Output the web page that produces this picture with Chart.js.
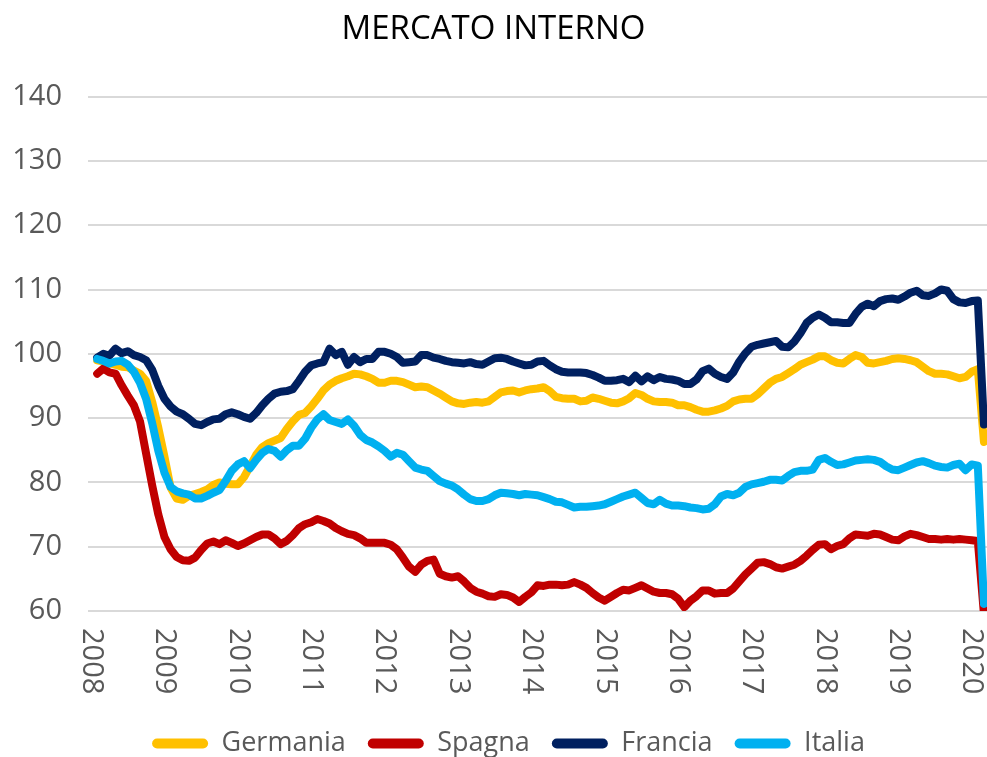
<!DOCTYPE html>
<html>
<head>
<meta charset="utf-8">
<title>Mercato interno</title>
<script src="https://cdn.jsdelivr.net/npm/chart.js@4.4.1/dist/chart.umd.min.js"></script>
<style>
  html, body { margin: 0; padding: 0; background: #fff; }
  #wrap { width: 987px; height: 757px; }
</style>
</head>
<body>
<div id="wrap"><canvas id="chart" width="987" height="757"></canvas></div>
<script>
// monthly index values, Feb 2008 .. Mar 2020 (month index 1 = Feb 2008)
const germania = [
  99.0, 98.8, 98.5, 98.3, 98.0, 97.9, 97.4, 96.9, 95.8, 92.5,
  88.5, 84.0, 79.2, 77.5, 77.3, 77.9, 78.2, 78.5, 78.9, 79.6,
  80.0, 79.8, 79.7, 79.7, 80.8, 82.5, 84.3, 85.5, 86.1, 86.5,
  86.9, 88.3, 89.5, 90.5, 90.8, 91.8, 93.0, 94.3, 95.2, 95.8,
  96.2, 96.5, 96.9, 96.8, 96.5, 96.1, 95.5, 95.5, 95.8, 95.8,
  95.6, 95.2, 94.8, 94.9, 94.8, 94.3, 93.8, 93.2, 92.6, 92.3,
  92.2, 92.4, 92.5, 92.4, 92.6, 93.3, 94.0, 94.2, 94.3, 94.0,
  94.3, 94.5, 94.6, 94.8, 94.2, 93.3, 93.1, 93.0, 93.0, 92.6,
  92.7, 93.2, 93.0, 92.7, 92.4, 92.3, 92.6, 93.1, 93.9, 93.6,
  93.0, 92.6, 92.5, 92.5, 92.4, 92.0, 92.0, 91.7, 91.3, 91.0,
  91.0, 91.2, 91.5, 91.9, 92.6, 92.9, 93.0, 93.0, 93.7, 94.6,
  95.5, 96.1, 96.4, 97.0, 97.6, 98.3, 98.7, 99.1, 99.6, 99.6,
  99.0, 98.6, 98.5, 99.2, 99.8, 99.5, 98.6, 98.5, 98.7, 98.9,
  99.2, 99.3, 99.2, 99.0, 98.7, 98.0, 97.3, 96.9, 96.9, 96.8,
  96.5, 96.2, 96.4, 97.2, 97.6, 86.3
];
const spagna = [
  96.9, 97.7, 97.1, 96.9, 95.1, 93.5, 92.0, 89.5, 84.5, 79.5,
  75.0, 71.5, 69.6, 68.4, 67.9, 67.8, 68.3, 69.5, 70.5, 70.8,
  70.4, 71.0, 70.6, 70.1, 70.5, 71.0, 71.5, 71.9, 71.9, 71.3,
  70.4, 70.9, 71.8, 72.9, 73.5, 73.8, 74.3, 74.0, 73.6, 72.9,
  72.4, 72.0, 71.8, 71.3, 70.6, 70.6, 70.6, 70.6, 70.3, 69.6,
  68.3, 66.9, 66.1, 67.2, 67.8, 68.0, 65.8, 65.4, 65.2, 65.4,
  64.6, 63.6, 63.0, 62.7, 62.3, 62.2, 62.6, 62.5, 62.1, 61.4,
  62.2, 62.9, 64.0, 63.9, 64.1, 64.1, 64.0, 64.1, 64.5, 64.1,
  63.6, 62.8, 62.1, 61.6, 62.2, 62.8, 63.3, 63.2, 63.6, 64.0,
  63.5, 63.0, 62.8, 62.8, 62.6, 61.9, 60.6, 61.6, 62.3, 63.2,
  63.2, 62.7, 62.8, 62.8, 63.5, 64.6, 65.7, 66.6, 67.5, 67.6,
  67.3, 66.8, 66.6, 66.9, 67.2, 67.8, 68.6, 69.5, 70.3, 70.4,
  69.6, 70.1, 70.4, 71.3, 71.9, 71.8, 71.7, 72.0, 71.9, 71.5,
  71.1, 71.0, 71.6, 72.0, 71.8, 71.5, 71.2, 71.2, 71.1, 71.2,
  71.1, 71.2, 71.1, 71.0, 70.9, 59.5
];
const francia = [
  99.4, 100.0, 99.7, 100.8, 100.1, 100.4, 99.8, 99.5, 99.0, 97.5,
  95.0, 93.0, 91.8, 91.0, 90.6, 89.9, 89.1, 88.9, 89.4, 89.8,
  89.9, 90.6, 90.9, 90.6, 90.2, 89.9, 90.8, 92.0, 93.0, 93.8,
  94.1, 94.2, 94.5, 95.8, 97.2, 98.2, 98.5, 98.7, 100.8, 99.8,
  100.3, 98.3, 99.5, 98.7, 99.2, 99.2, 100.3, 100.3, 100.0, 99.5,
  98.6, 98.7, 98.8, 99.8, 99.8, 99.4, 99.2, 98.9, 98.7, 98.6,
  98.5, 98.7, 98.4, 98.3, 98.8, 99.3, 99.4, 99.2, 98.8, 98.5,
  98.2, 98.3, 98.8, 98.9, 98.2, 97.6, 97.2, 97.1, 97.1, 97.1,
  97.0, 96.7, 96.3, 95.8, 95.8, 95.9, 96.1, 95.6, 96.6, 95.7,
  96.5, 95.9, 96.4, 96.1, 96.0, 95.8, 95.3, 95.3, 96.0, 97.3,
  97.7, 96.9, 96.4, 96.1, 97.1, 98.8, 100.1, 101.1, 101.4, 101.6,
  101.8, 102.0, 101.1, 101.0, 101.9, 103.2, 104.8, 105.6, 106.1, 105.6,
  104.9, 104.9, 104.8, 104.8, 106.2, 107.3, 107.8, 107.4, 108.2, 108.5,
  108.6, 108.4, 108.9, 109.5, 109.8, 109.1, 109.0, 109.4, 110.0, 109.8,
  108.5, 108.0, 107.9, 108.2, 108.3, 89.0
];
const italia = [
  99.2, 98.9, 98.5, 98.8, 98.9, 98.3, 97.2, 95.5, 93.0, 89.2,
  84.9, 81.5, 79.3, 78.6, 78.3, 78.1, 77.5, 77.5, 77.9, 78.4,
  78.8, 80.2, 81.8, 82.8, 83.3, 82.2, 83.5, 84.6, 85.2, 84.9,
  84.0, 85.0, 85.7, 85.7, 86.8, 88.5, 89.8, 90.6, 89.7, 89.4,
  89.1, 89.8, 88.8, 87.4, 86.6, 86.2, 85.6, 84.9, 84.0, 84.6,
  84.3, 83.3, 82.3, 82.0, 81.8, 81.0, 80.2, 79.8, 79.5, 78.9,
  78.1, 77.4, 77.1, 77.1, 77.4, 78.0, 78.4, 78.3, 78.2, 78.0,
  78.2, 78.1, 78.0, 77.7, 77.4, 77.0, 76.9, 76.5, 76.1, 76.2,
  76.2, 76.3, 76.4, 76.6, 77.0, 77.4, 77.8, 78.1, 78.4, 77.6,
  76.8, 76.6, 77.3, 76.7, 76.4, 76.4, 76.3, 76.1, 76.0, 75.8,
  75.9, 76.6, 77.8, 78.2, 78.0, 78.4, 79.3, 79.7, 79.9, 80.1,
  80.4, 80.4, 80.3, 81.0, 81.6, 81.8, 81.8, 82.0, 83.5, 83.8,
  83.2, 82.7, 82.8, 83.1, 83.4, 83.5, 83.6, 83.5, 83.2, 82.5,
  82.0, 81.9, 82.3, 82.7, 83.1, 83.3, 83.0, 82.6, 82.4, 82.3,
  82.7, 82.9, 81.9, 82.8, 82.6, 61.1
];

// x-axis year labels and the month index (from Jan 2008) where each sits
const yearLabels = ['2008', '2009', '2010', '2011', '2012', '2013', '2014',
                    '2015', '2016', '2017', '2018', '2019', '2020'];
const yearIndex  = [0, 12, 24, 36, 48, 60, 72, 84, 96, 108, 120, 132, 144];

const FONT  = '"Open Sans", "Noto Sans", sans-serif';
const GREY  = '#595959';

const toPoints = arr => arr.map((v, i) => ({x: i + 1, y: v}));

const series = [
  {label: 'Germania', data: germania, color: '#FFC000', order: 4},
  {label: 'Spagna',   data: spagna,   color: '#C00000', order: 3},
  {label: 'Francia',  data: francia,  color: '#002060', order: 2},
  {label: 'Italia',   data: italia,   color: '#00B0F0', order: 1}
];

// year labels run top-to-bottom under the axis, like the original
const yearLabelPlugin = {
  id: 'yearLabels',
  afterLayout(chart) {
    // the original legend sits a little right of centre
    chart.legend.left += 15;
    chart.legend.right += 15;
  },
  afterDraw(chart) {
    const {ctx, chartArea, scales} = chart;
    const x = scales.x;
    ctx.save();
    ctx.font = '29px ' + FONT;
    ctx.fillStyle = GREY;
    ctx.textAlign = 'left';
    ctx.textBaseline = 'middle';
    yearLabels.forEach((label, i) => {
      ctx.save();
      ctx.translate(x.getPixelForValue(yearIndex[i]), chartArea.bottom + 17);
      ctx.rotate(Math.PI / 2);
      ctx.fillText(label, 0, 0);
      ctx.restore();
    });
    ctx.restore();
  }
};

new Chart(document.getElementById('chart'), {
  type: 'line',
  data: {
    datasets: series.map(s => ({
      label: s.label,
      data: toPoints(s.data),
      borderColor: s.color,
      backgroundColor: s.color,
      borderWidth: 8,
      borderCapStyle: 'round',
      borderJoinStyle: 'round',
      pointRadius: 0,
      tension: 0,
      order: s.order
    }))
  },
  options: {
    responsive: false,
    animation: false,
    devicePixelRatio: 1,
    layout: {padding: {left: 0, right: 0, top: 0, bottom: -10}},
    scales: {
      x: {
        type: 'linear',
        min: -0.5,
        max: 146.5,
        grid: {display: false},
        border: {display: false},
        ticks: {display: false},
        afterFit(scale) { scale.height = 97; }
      },
      y: {
        min: 60,
        max: 140,
        ticks: {stepSize: 10, color: GREY, padding: 26, font: {family: FONT, size: 29}},
        grid: {color: '#D9D9D9', lineWidth: 2, drawTicks: false},
        border: {display: false},
        afterFit(scale) { scale.width = 88; }
      }
    },
    plugins: {
      title: {
        display: true,
        text: 'MERCATO INTERNO',
        color: '#000',
        font: {family: FONT, size: 33, weight: 'normal'},
        padding: {top: 10, bottom: 47}
      },
      legend: {
        position: 'bottom',
        labels: {
          color: GREY,
          font: {family: FONT, size: 27},
          boxWidth: 56,
          boxHeight: 10,
          useBorderRadius: true,
          borderRadius: 5,
          padding: 22,
          sort: (a, b) => a.datasetIndex - b.datasetIndex,
          generateLabels(chart) {
            return Chart.defaults.plugins.legend.labels.generateLabels(chart)
              .map(item => Object.assign(item, {lineWidth: 0}));
          }
        }
      },
      tooltip: {enabled: false}
    }
  },
  plugins: [yearLabelPlugin]
});
</script>
</body>
</html>
